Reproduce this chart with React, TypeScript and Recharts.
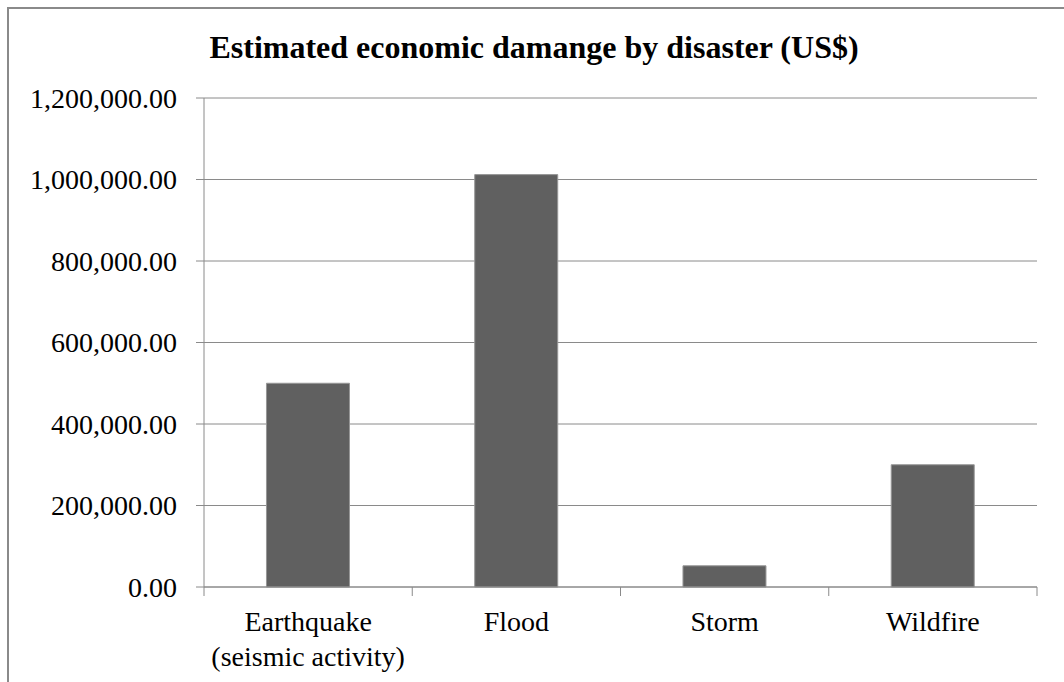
import React from "react";
import { Bar, BarChart, CartesianGrid, XAxis, YAxis } from "recharts";

const CATEGORIES = ["Earthquake\n(seismic activity)", "Flood", "Storm", "Wildfire"];
const DAMAGE = [500000, 1012000, 52000, 300000];
const Y_TICKS = [0, 200000, 400000, 600000, 800000, 1000000, 1200000];

const TITLE = "Estimated economic damange by disaster (US$)";
const FONT = "'Liberation Serif', 'Times New Roman', serif";
const AXIS_GRAY = "#8a8a8a";

const data = CATEGORIES.map((name, i) => ({ name, damage: DAMAGE[i] }));

const fmt = (v: number) =>
  v.toLocaleString("en-US", { minimumFractionDigits: 2, maximumFractionDigits: 2 });

// category labels sit under the band, tick marks go on the band edges (Excel style)
function CategoryTick(props: any) {
  const { x, y, payload, index } = props;
  const half = payload?.offset ?? 104;
  const lines = String(payload.value).split("\n");
  const last = index === CATEGORIES.length - 1;
  return (
    <g>
      <line x1={x - half} x2={x - half} y1={y} y2={y + 9} stroke={AXIS_GRAY} strokeWidth={1} />
      {last && <line x1={x + half} x2={x + half} y1={y} y2={y + 9} stroke={AXIS_GRAY} strokeWidth={1} />}
      <text
        x={x}
        y={y + 44}
        textAnchor="middle"
        fontSize={28}
        fill="#000"
        style={{ fontFamily: FONT, fontSize: 28 }}
      >
        {lines.map((l, i) => (
          <tspan key={i} x={x} dy={i === 0 ? 0 : 34.5}>
            {l}
          </tspan>
        ))}
      </text>
    </g>
  );
}

export default function App() {
  return (
    <div
      style={{
        position: "absolute",
        left: 0,
        top: 0,
        width: 1064,
        height: 682,
        overflow: "hidden",
        background: "#fff",
        fontFamily: FONT,
      }}
    >
      <div
        style={{
          position: "absolute",
          left: 7,
          top: 7,
          width: 1200,
          height: 800,
          border: `2px solid ${AXIS_GRAY}`,
          boxSizing: "border-box",
        }}
      />
      <svg width={1064} height={80} style={{ position: "absolute", left: 0, top: 0 }}>
        <text
          x={534}
          y={58}
          textAnchor="middle"
          fill="#000"
          style={{ fontFamily: FONT, fontWeight: "bold", fontSize: 32 }}
        >
          {TITLE}
        </text>
      </svg>
      <div style={{ position: "absolute", left: 0, top: 0 }}>
        <BarChart
          width={1064}
          height={682}
          data={data}
          margin={{ top: 98, right: 27, left: 0, bottom: 0 }}
          barCategoryGap="30%"
        >
          <CartesianGrid vertical={false} stroke={AXIS_GRAY} strokeWidth={1} />
          <XAxis
            dataKey="name"
            height={95}
            interval={0}
            tickLine={false}
            tickSize={0}
            tickMargin={0}
            axisLine={{ stroke: AXIS_GRAY, strokeWidth: 1 }}
            tick={<CategoryTick />}
          />
          <YAxis
            width={204}
            domain={[0, 1200000]}
            ticks={Y_TICKS}
            interval={0}
            tickSize={8}
            tickMargin={19}
            tickLine={{ stroke: AXIS_GRAY }}
            axisLine={{ stroke: AXIS_GRAY, strokeWidth: 1 }}
            tickFormatter={(v) => fmt(Number(v))}
            tick={{ fontFamily: FONT, fontSize: 28, fill: "#000" }}
          />
          <Bar dataKey="damage" fill="#606060" stroke="#979797" strokeWidth={1} isAnimationActive={false} />
        </BarChart>
      </div>
    </div>
  );
}
